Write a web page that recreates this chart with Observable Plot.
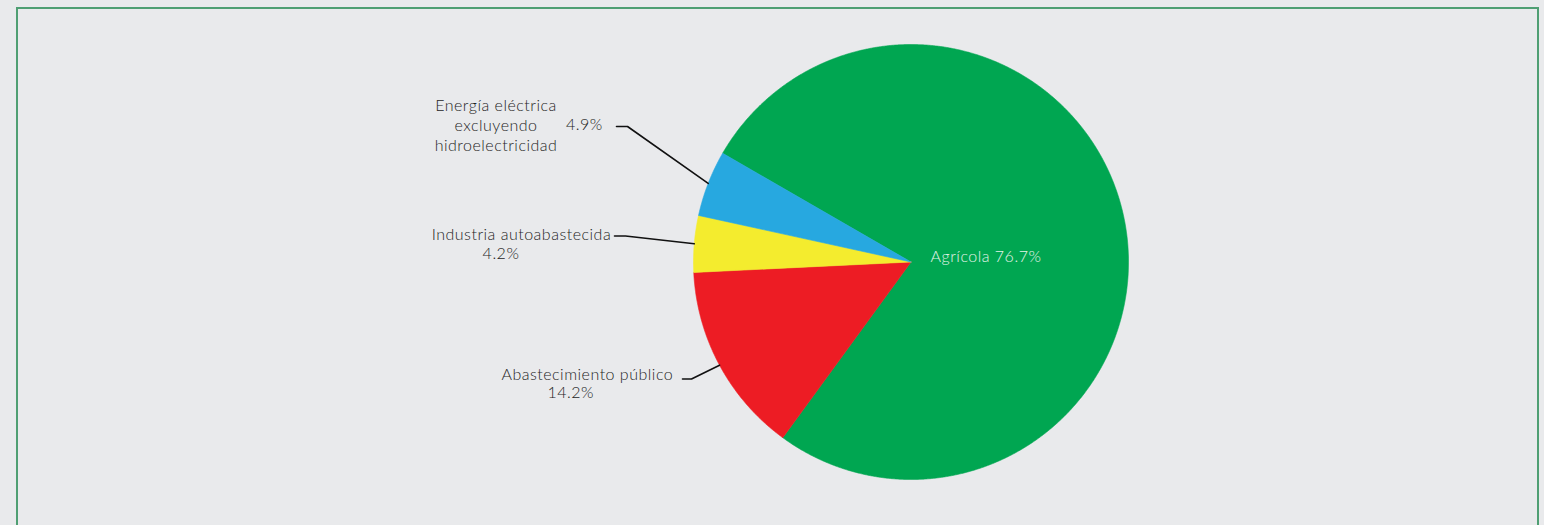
<!DOCTYPE html>
<html>
<head>
<meta charset="utf-8">
<script src="https://cdn.jsdelivr.net/npm/d3@7"></script>
<script src="https://cdn.jsdelivr.net/npm/@observablehq/plot@0.6"></script>
<style>
  html, body { margin: 0; padding: 0; background: #e9eaec; overflow: hidden; }
  #wrap { position: relative; width: 1544px; height: 525px; }
  #border { position: absolute; left: 16px; top: 7px; width: 1523px; height: 620px;
            border: 2px solid #4f9f73; box-sizing: border-box; }
  #chart { position: absolute; left: 0; top: 0; }
  #chart text { letter-spacing: 0.5px; }
</style>
</head>
<body>
<div id="wrap"><div id="border"></div><div id="chart"></div></div>
<script>
// ---- data ----
const categories = ["Agrícola", "Abastecimiento público", "Industria autoabastecida", "Energía eléctrica excluyendo hidroelectricidad"];
const shares = [76.7, 14.2, 4.2, 4.9];
const sliceColors = ["#00a651", "#ed1c24", "#f4ec2e", "#27a8e0"];

// ---- label layout (pie radius units, origin at pie centre, y up) ----
const leaderElbows = [null, [-1.0092, -0.5379], [-1.3126, 0.1195], [-1.3034, 0.6230]];
const leaderEnds   = [null, [-1.0506, -0.5379], [-1.3632, 0.1195], [-1.3540, 0.6230]];
const labelTexts = [
  {i: 0, text: d => `${categories[0]} ${d.toFixed(1)}%`, x: 0.0897, y: -0.0009, anchor: "start", fill: "#e3f3e8"},
  {i: 1, text: () => categories[1], x: -1.0933, y: -0.5448, anchor: "end"},
  {i: 1, text: d => `${d.toFixed(1)}%`, x: -1.5646, y: -0.6244, anchor: "middle"},
  {i: 2, text: () => categories[2], x: -1.3784, y: 0.1021, anchor: "end"},
  {i: 2, text: d => `${d.toFixed(1)}%`, x: -1.8851, y: 0.0147, anchor: "middle"},
  {i: 3, text: () => "Energía eléctrica", x: -1.9080, y: 0.6933, anchor: "middle"},
  {i: 3, text: () => "excluyendo", x: -1.9080, y: 0.6014, anchor: "middle"},
  {i: 3, text: () => "hidroelectricidad", x: -1.9080, y: 0.5094, anchor: "middle"},
  {i: 3, text: d => `${d.toFixed(1)}%`, x: -1.4170, y: 0.6078, anchor: "end"}
];

// ---- geometry from data ----
const data = categories.map((c, i) => ({name: c, value: shares[i], color: sliceColors[i]}));
const pie = d3.pie().sort(null).value(d => d.value)
  .startAngle(-Math.PI / 3).endAngle(-Math.PI / 3 + 2 * Math.PI);
const arcs = pie(data);

function slicePoints(a) {
  const pts = [{x: 0, y: 0}];
  const n = Math.max(8, Math.ceil((a.endAngle - a.startAngle) / (Math.PI / 720)));
  for (let k = 0; k <= n; k++) {
    const t = a.startAngle + (a.endAngle - a.startAngle) * k / n;
    pts.push({x: Math.sin(t), y: Math.cos(t)});
  }
  pts.push({x: 0, y: 0});
  return pts;
}

const sliceMarks = arcs.map(a =>
  Plot.line(slicePoints(a), {x: "x", y: "y", fill: a.data.color, stroke: a.data.color, strokeWidth: 0.6, curve: "linear"})
);

const leaderMarks = arcs.map((a, i) => {
  if (!leaderElbows[i]) return null;
  const mid = (a.startAngle + a.endAngle) / 2;
  const pts = [
    {x: Math.sin(mid), y: Math.cos(mid)},
    {x: leaderElbows[i][0], y: leaderElbows[i][1]},
    {x: leaderEnds[i][0], y: leaderEnds[i][1]}
  ];
  return Plot.line(pts, {x: "x", y: "y", stroke: "#111", strokeWidth: 1.6});
}).filter(Boolean);

const textRows = labelTexts.map(l => ({...l, label: l.text(shares[l.i])}));
const textMarks = ["start", "middle", "end"].map(anchor =>
  Plot.text(textRows.filter(r => r.anchor === anchor), {
    x: "x", y: "y", text: "label", textAnchor: anchor, lineAnchor: "bottom",
    fill: r => r.fill || "#1e1e1e", fontSize: 16, fontWeight: 300
  })
);

const R = 217.5, cx = 910.5, cy = 261.5, W = 1544, H = 525;
const chart = Plot.plot({
  width: W, height: H,
  margin: 0,
  x: {domain: [-cx / R, (W - cx) / R], axis: null},
  y: {domain: [-(H - cy) / R, cy / R], axis: null},
  color: {type: "identity"},
  style: {background: "transparent", fontFamily: "Lato, 'Open Sans', sans-serif", fontSize: "16px"},
  marks: [...sliceMarks, ...leaderMarks, ...textMarks]
});
document.getElementById("chart").appendChild(chart);
</script>
</body>
</html>
